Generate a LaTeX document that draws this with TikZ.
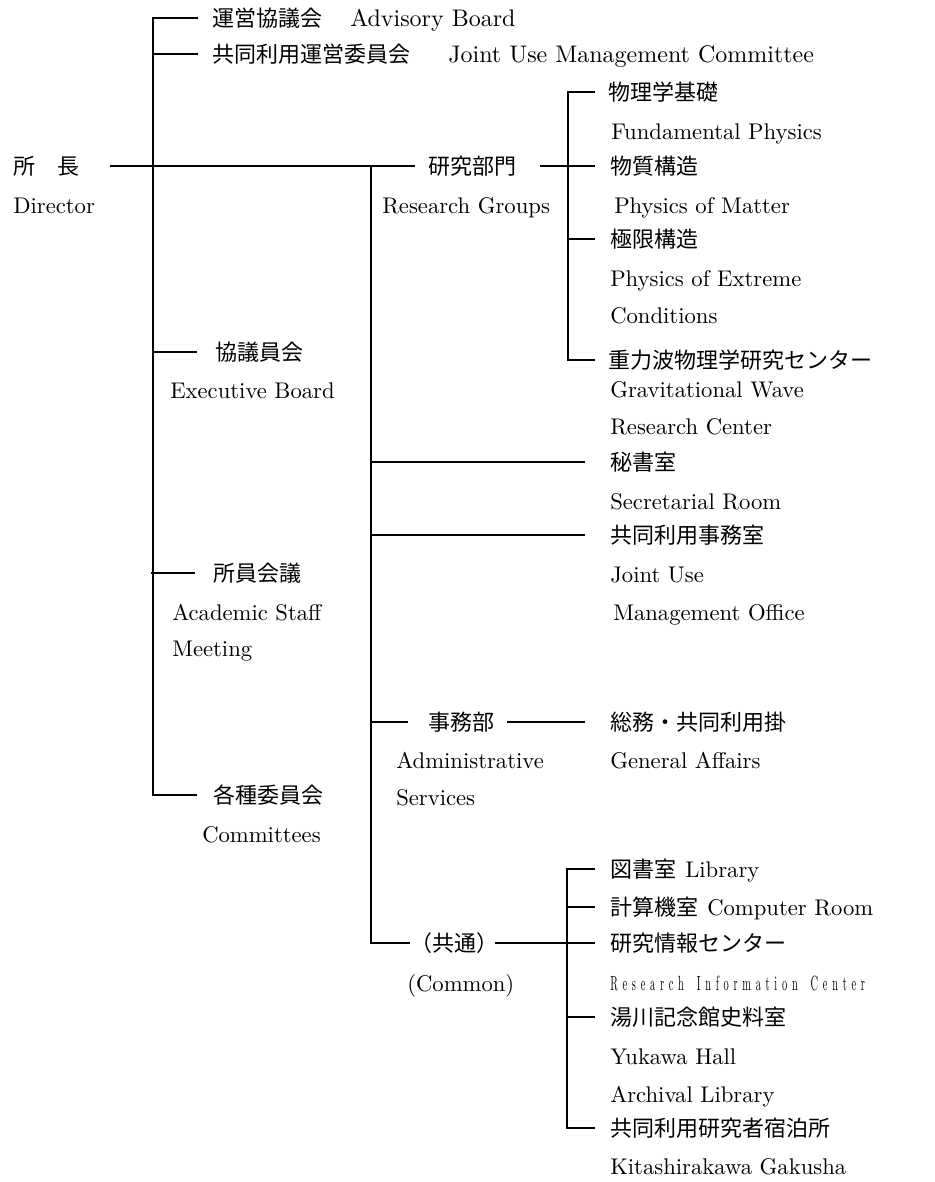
\documentclass[tikz,border=0pt]{standalone}
\usepackage{fontspec}
\usepackage{graphicx}
\setmainfont{lmroman10-regular.otf}
\newfontfamily\jpf{Noto Sans CJK JP}
\newcommand\gk{\kern7pt}
\begin{document}
\begin{tikzpicture}[x=0.75pt,y=-0.75pt,
  en/.style={anchor=base west, inner sep=0pt, font=\fontsize{17}{20}\selectfont},
  enbig/.style={en, font=\fontsize{18}{21}\selectfont},
  jp/.style={anchor=base west, inner sep=0pt, font=\jpf\fontsize{16.5}{20}\selectfont},
  ln/.style={line width=1pt}]
\useasboundingbox (0,0) rectangle (935,1182);

% ---------- left column ----------
\node[jp] (jadv) at (212,26) {運営協議会};
\node[enbig] (eadv) at (350,26) {Advisory Board};
\node[jp] (jjum) at (212,62) {共同利用運営委員会};
\node[enbig] (ejum) at (448,62) {Joint Use Management Committee};
\node[jp] (jdir) at (13,174) {所　長};
\node[en] (edir) at (13,213) {Director};
\node[jp] (jexe) at (215,360) {協議員会};
\node[en] (eexe) at (170,398) {Executive Board};
\node[jp] (jasm) at (213,581) {所員会議};
\node[en] (easm1) at (172,620) {Academic Staff};
\node[en] (easm2) at (172,656) {Meeting};
\node[jp] (jcom) at (213,803) {各種委員会};
\node[en] (ecom) at (202,842) {Committees};

% ---------- middle column ----------
\node[jp] (jrg) at (428,174) {研究部門};
\node[en] (erg) at (382,213) {Research Groups};
\node[jp] (jadm) at (428,730) {事務部};
\node[en] (eadm1) at (396,768) {Administrative};
\node[en] (eadm2) at (396,805) {Services};
\node[jp] (jcmn) at (410,951) {（共通）};
\node[en] (ecmn) at (407,991) {(Common)};

% ---------- right column ----------
\node[jp] (jfp) at (608,100) {物理学基礎};
\node[en] (efp) at (611,139) {Fundamental Physics};
\node[jp] (jpm) at (610,174) {物質構造};
\node[en] (epm) at (614,213) {Physics of Matter};
\node[jp] (jpe) at (610,247) {極限構造};
\node[en] (epe1) at (610,286) {Physics of Extreme};
\node[en] (epe2) at (610,323) {Conditions};
\node[jp] (jgw) at (608,368) {重力波物理学研究センター};
\node[en] (egw1) at (610,397) {Gravitational Wave};
\node[en] (egw2) at (610,434) {Research Center};
\node[jp] (jsec) at (610,470) {秘書室};
\node[en] (esec) at (610,509) {Secretarial Room};
\node[jp] (jjo) at (610,543) {共同利用事務室};
\node[en] (ejo1) at (610,582) {Joint Use};
\node[en] (ejo2) at (613,620) {Management Office};
\node[jp] (jga) at (610,730) {総務・共同利用掛};
\node[en] (ega) at (610,768) {General Affairs};
\node[jp] (jlib) at (610,877) {図書室};
\node[en] (elib) at (685,877) {Library};
\node[jp] (jcr) at (610,915) {計算機室};
\node[en] (ecr) at (707,915) {Computer Room};
\node[jp] (jric) at (610,951) {研究情報センター};
\node[anchor=base west, inner sep=0pt] (eric) at (610,990)
  {\resizebox{191pt}{\height}{\fontsize{15.4}{18}\selectfont
   R\gk e\gk s\gk e\gk a\gk r\gk c\gk h\gk\ \gk I\gk n\gk f\gk o\gk r\gk m\gk a\gk t\gk i\gk o\gk n\gk\ \gk C\gk e\gk n\gk t\gk e\gk r}};
\node[jp] (jyh) at (610,1025) {湯川記念館史料室};
\node[en] (eyh1) at (610,1064) {Yukawa Hall};
\node[en] (eyh2) at (610,1102) {Archival Library};
\node[jp] (jkg) at (610,1136) {共同利用研究者宿泊所};
\node[en] (ekg) at (610,1174) {Kitashirakawa Gakusha};

% ---------- junction coordinates ----------
\coordinate (a0) at (153,18);   \coordinate (a1) at (198,18);
\coordinate (b0) at (153,54);   \coordinate (b1) at (198,54);
\coordinate (d0) at (110,166);  \coordinate (d1) at (415,166);
\coordinate (e0) at (153,352);  \coordinate (e1) at (197,352);
\coordinate (s0) at (151,573);  \coordinate (s1) at (195,573);
\coordinate (c0) at (153,795);  \coordinate (c1) at (197,795);
\coordinate (m0) at (371,166);  \coordinate (m1) at (371,943); \coordinate (m2) at (410,943);
\coordinate (r0) at (540,166);  \coordinate (r1) at (595,166);
\coordinate (rv0) at (568,92);  \coordinate (rt0) at (595,92);
\coordinate (rv1) at (568,239); \coordinate (rt1) at (595,239);
\coordinate (rv2) at (568,360); \coordinate (rt2) at (595,360);
\coordinate (h0) at (371,462);  \coordinate (h1) at (585,462);
\coordinate (j0) at (371,535);  \coordinate (j1) at (585,535);
\coordinate (k0) at (371,722);  \coordinate (k1) at (408,722);
\coordinate (k2) at (507,722);  \coordinate (k3) at (585,722);
\coordinate (q0) at (495,943);  \coordinate (q1) at (595,943);
\coordinate (cv0) at (567,869); \coordinate (ct0) at (595,869);
\coordinate (cv1) at (567,907); \coordinate (ct1) at (595,907);
\coordinate (cv2) at (567,1017);\coordinate (ct2) at (595,1017);
\coordinate (cv3) at (567,1128);\coordinate (ct3) at (595,1128);

% ---------- connectors ----------
\draw[ln] (a1) -- (a0) -- (c0) -- (c1);
\draw[ln] (b0) -- (b1);
\draw[ln] (d0) -- (d1);
\draw[ln] (e0) -- (e1);
\draw[ln] (s0) -- (s1);
\draw[ln] (m0) -- (m1) -- (m2);
\draw[ln] (r0) -- (r1);
\draw[ln] (rt0) -- (rv0) -- (rv2) -- (rt2);
\draw[ln] (rv1) -- (rt1);
\draw[ln] (h0) -- (h1);
\draw[ln] (j0) -- (j1);
\draw[ln] (k0) -- (k1);
\draw[ln] (k2) -- (k3);
\draw[ln] (q0) -- (q1);
\draw[ln] (ct0) -- (cv0) -- (cv3) -- (ct3);
\draw[ln] (cv1) -- (ct1);
\draw[ln] (cv2) -- (ct2);
\end{tikzpicture}
\end{document}
